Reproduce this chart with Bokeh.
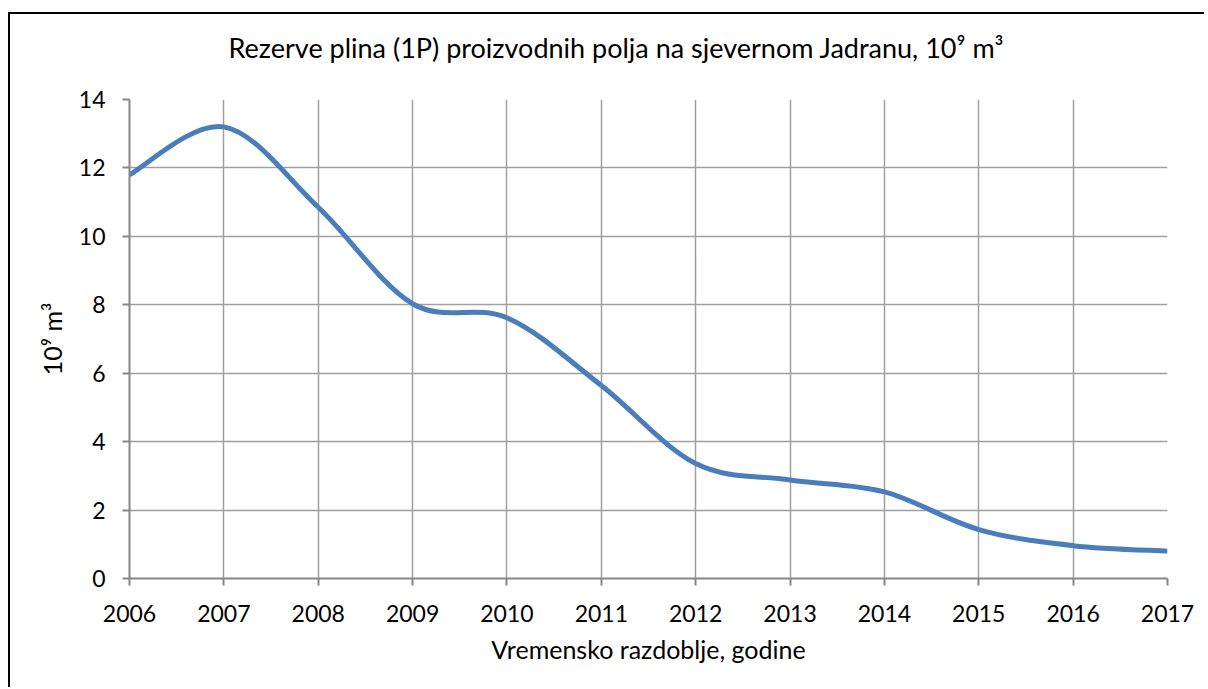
from bokeh.plotting import figure
from bokeh.embed import file_html
from bokeh.resources import INLINE
from bokeh.models import FixedTicker, Range1d, ColumnDataSource, Title

# ---- data ----
years = [2006, 2007, 2008, 2009, 2010, 2011, 2012, 2013, 2014, 2015, 2016, 2017]
reserves = [11.8, 13.2, 10.85, 8.03, 7.62, 5.64, 3.36, 2.88, 2.53, 1.43, 0.96, 0.8]
y_ticks = [0, 2, 4, 6, 8, 10, 12, 14]
title_text = "Rezerve plina (1P) proizvodnih polja na sjevernom Jadranu, 10\u2079 m\u00b3"
x_label = "Vremensko razdoblje, godine"
y_label = "10\u2079 m\u00b3"

FONT = "Lato"
LINE_COLOR = "#4A7EBB"

p = figure(width=1196, height=675, output_backend="svg", toolbar_location=None,
           x_range=Range1d(years[0], years[-1]), y_range=Range1d(y_ticks[0], y_ticks[-1]),
           min_border_left=119, min_border_right=39, min_border_top=85, min_border_bottom=111)
p.styles = {"margin-top": "12px", "margin-left": "8px",
            "border-top": "2px solid #000", "border-left": "2px solid #000"}
p.outline_line_color = None
p.background_fill_color = "white"
p.border_fill_color = "white"

# spacer panel between frame and title (keeps the title high in the top border)
p.add_layout(Title(text=" ", text_font_size="1px", standoff=29), "above")
p.add_layout(Title(text=title_text, align="left", offset=99, standoff=4, vertical_align="top",
                   text_font=FONT, text_font_size="27px", text_font_style="normal",
                   text_color="#000000"), "above")

# smoothed line (Excel-like cubic Bezier smoothing) derived from the data
n = len(years)
x0, y0, x1, y1, cx0, cy0, cx1, cy1 = [], [], [], [], [], [], [], []
for i in range(n - 1):
    pm = i - 1 if i > 0 else i
    pp = i + 2 if i + 2 < n else i + 1
    x0.append(years[i]); y0.append(reserves[i])
    x1.append(years[i + 1]); y1.append(reserves[i + 1])
    cx0.append(years[i] + (years[i + 1] - years[pm]) / 6.0)
    cy0.append(reserves[i] + (reserves[i + 1] - reserves[pm]) / 6.0)
    cx1.append(years[i + 1] - (years[pp] - years[i]) / 6.0)
    cy1.append(reserves[i + 1] - (reserves[pp] - reserves[i]) / 6.0)
src = ColumnDataSource(dict(x0=x0, y0=y0, x1=x1, y1=y1, cx0=cx0, cy0=cy0, cx1=cx1, cy1=cy1))
p.bezier(x0="x0", y0="y0", x1="x1", y1="y1", cx0="cx0", cy0="cy0", cx1="cx1", cy1="cy1",
         source=src, line_color=LINE_COLOR, line_width=5)

# axes
p.xaxis.ticker = FixedTicker(ticks=years)
p.yaxis.ticker = FixedTicker(ticks=y_ticks)
for ax in (p.xaxis[0], p.yaxis[0]):
    ax.axis_line_color = "#868686"
    ax.axis_line_width = 2
    ax.major_tick_line_color = "#868686"
    ax.major_tick_line_width = 2
    ax.major_tick_in = 0
    ax.major_tick_out = 7
    ax.minor_tick_line_color = None
    ax.major_label_text_font = FONT
    ax.major_label_text_font_size = "23px"
    ax.major_label_text_color = "#000000"
    ax.axis_label_text_font = FONT
    ax.axis_label_text_font_size = "25px"
    ax.axis_label_text_font_style = "normal"
    ax.axis_label_text_color = "#000000"
p.xaxis.axis_label = x_label
p.yaxis.axis_label = y_label
p.yaxis.major_label_standoff = 17
p.xaxis.major_label_standoff = 19
p.yaxis.axis_label_standoff = 9
p.xaxis.axis_label_standoff = 9

p.xgrid.ticker = FixedTicker(ticks=years)
p.ygrid.ticker = FixedTicker(ticks=y_ticks)
p.grid.grid_line_color = "#a0a0a0"
p.grid.grid_line_width = 1.5

open("out.html", "w").write(file_html(p, INLINE))
